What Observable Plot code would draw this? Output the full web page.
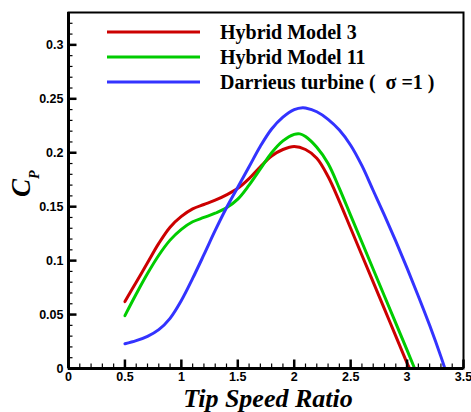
<!DOCTYPE html>
<html><head><meta charset="utf-8">
<script src="https://cdn.jsdelivr.net/npm/d3@7"></script>
<script src="https://cdn.jsdelivr.net/npm/@observablehq/plot@0.6"></script>
<style>body{margin:0;background:#fff} #chart svg{display:block}</style>
</head><body><div id="chart"></div>
<script>
// Hybrid Model 3 (red)
const tsrHM3 = [0.5,0.6,0.7,0.8,0.9,1.0,1.1,1.2,1.3,1.4,1.5,1.6,1.7,1.8,1.9,2.0,2.1,2.2,2.3,2.4,2.5,2.6,2.7,2.8,2.9,3.0,3.022];
const cpHM3  = [0.062,0.080,0.098,0.116,0.131,0.141,0.148,0.152,0.156,0.161,0.167,0.176,0.187,0.197,0.203,0.2058,0.203,0.195,0.178,0.155,0.130,0.105,0.080,0.055,0.030,0.005,0.0];
// Hybrid Model 11 (green)
const tsrHM11 = [0.5,0.6,0.7,0.8,0.9,1.0,1.1,1.2,1.3,1.4,1.5,1.6,1.7,1.8,1.9,2.0,2.05,2.1,2.2,2.3,2.4,2.5,2.6,2.7,2.8,2.9,3.0,3.067];
const cpHM11  = [0.049,0.069,0.088,0.105,0.119,0.129,0.136,0.140,0.144,0.149,0.157,0.170,0.185,0.200,0.211,0.217,0.2175,0.215,0.205,0.190,0.167,0.142,0.117,0.092,0.067,0.042,0.017,0.0];
// Darrieus turbine (blue)
const tsrDT = [0.5,0.6,0.7,0.8,0.9,1.0,1.1,1.2,1.3,1.4,1.5,1.6,1.7,1.8,1.9,2.0,2.075,2.1,2.2,2.3,2.4,2.5,2.6,2.7,2.8,2.9,3.0,3.1,3.2,3.3,3.335];
const cpDT  = [0.023,0.0258,0.0298,0.036,0.0465,0.063,0.0835,0.1055,0.128,0.149,0.168,0.187,0.206,0.222,0.233,0.240,0.2418,0.2415,0.238,0.231,0.221,0.207,0.188,0.165,0.142,0.118,0.093,0.067,0.040,0.011,0.0];

const seriesNames = ["Hybrid Model 3", "Hybrid Model 11", "Darrieus turbine (  σ =1 )"];
const seriesColors = ["#cc0000", "#00cc00", "#3333ff"];

const xMajorTicks = [0, 0.5, 1, 1.5, 2, 2.5, 3, 3.5];
const xTickLabels = ["0", "0.5", "1", "1.5", "2", "2.5", "3", "3.5"];
const yMajorTicks = [0, 0.05, 0.1, 0.15, 0.2, 0.25, 0.3];
const yTickLabels = ["0", "0.05", "0.1", "0.15", "0.2", "0.25", "0.3"];
const xMinorTicks = d3.range(0, 36).map(i => i / 10);
const yMinorTicks = d3.range(0, 33).map(i => i / 100);

const rows = [];
[[tsrHM3, cpHM3], [tsrHM11, cpHM11], [tsrDT, cpDT]].forEach(([xs, ys], k) => {
  xs.forEach((x, i) => rows.push({series: seriesNames[k], tsr: x, cp: ys[i]}));
});

const serif = "'Liberation Serif', 'Times New Roman', serif";
const sans = "'Liberation Sans', Arial, sans-serif";

const W = 471, H = 412, ML = 68, MR = 8, MT = 12, MB = 44;
const frameW = W - ML - MR, frameH = H - MT - MB;

const plot = Plot.plot({
  width: W, height: H,
  marginLeft: ML, marginRight: MR, marginTop: MT, marginBottom: MB,
  x: {domain: [0, 3.5], axis: null},
  y: {domain: [0, 0.33], axis: null},
  color: {domain: seriesNames, range: seriesColors},
  style: {fontFamily: sans, background: "white", overflow: "visible", color: "black"},
  marks: [
    Plot.line(rows, {x: "tsr", y: "cp", z: "series", stroke: "series", curve: "catmull-rom", strokeWidth: 3}),
    Plot.frame({strokeWidth: 2}),
    Plot.ruleX([0], {strokeWidth: 3}),
    Plot.ruleY([0], {strokeWidth: 3}),
    // inward minor and major ticks (pixel lengths via insets)
    Plot.tickX(xMinorTicks, {x: d => d, insetTop: frameH - 4.5, stroke: "black", strokeWidth: 1.2}),
    Plot.tickX(xMajorTicks, {x: d => d, insetTop: frameH - 8.5, stroke: "black", strokeWidth: 2.5}),
    Plot.tickY(yMinorTicks, {y: d => d, insetRight: frameW - 4.5, stroke: "black", strokeWidth: 1.2}),
    Plot.tickY(yMajorTicks, {y: d => d, insetRight: frameW - 8.5, stroke: "black", strokeWidth: 2.5}),
    Plot.axisX(xMajorTicks, {anchor: "bottom", tickSize: 0, tickPadding: 4, tickFormat: (d, i) => xTickLabels[i], fontWeight: "bold", fontSize: 12.5, label: null}),
    Plot.axisY(yMajorTicks, {anchor: "left", tickSize: 0, tickPadding: 5, tickFormat: (d, i) => yTickLabels[i], fontWeight: "bold", fontSize: 12.5, label: null}),
    Plot.text(["Tip Speed Ratio"], {text: d => d, frameAnchor: "bottom", dx: 2, dy: 30, lineAnchor: "middle", fontFamily: serif, fontWeight: "bold", fontStyle: "italic", fontSize: 26})
  ]
});

const svg = d3.select(plot);

// Y axis title C_P (rotated, subscript P)
const yt = svg.append("text")
  .attr("transform", "translate(30,197) rotate(-90)")
  .attr("text-anchor", "start")
  .attr("font-family", serif).attr("font-weight", "bold").attr("font-style", "italic")
  .attr("fill", "black");
yt.append("tspan").attr("font-size", 27).text("C");
yt.append("tspan").attr("font-size", 14).attr("dy", 9).text("P");

// Legend inside the plot area
const leg = svg.append("g").attr("class", "legend").attr("text-anchor", "start");
seriesNames.forEach((name, i) => {
  const y = 32 + 25 * i;
  leg.append("line").attr("x1", 107).attr("x2", 200).attr("y1", y).attr("y2", y)
    .attr("stroke", seriesColors[i]).attr("stroke-width", 3);
  leg.append("text").attr("x", 220).attr("y", y).attr("dy", "0.35em")
    .attr("text-anchor", "start")
    .attr("font-family", serif).attr("font-weight", "bold").attr("font-size", 20)
    .attr("fill", "black").text(name);
});

document.getElementById("chart").append(plot);
</script>
</body></html>
